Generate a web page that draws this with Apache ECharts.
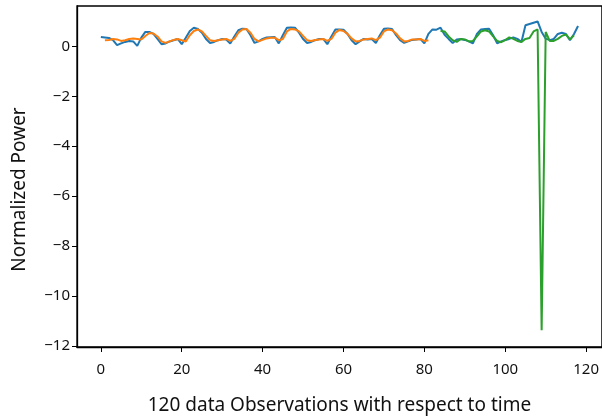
<!DOCTYPE html>
<html>
<head>
<meta charset="utf-8">
<script src="https://cdn.jsdelivr.net/npm/echarts@6/dist/echarts.min.js"></script>
<style>
  html, body { margin: 0; padding: 0; background: #fff; }
  #chart { width: 602px; height: 420px; }
</style>
</head>
<body>
<div id="chart"></div>
<script>
  // 实际功率（蓝）, 从第0个观测开始
  const actualPower = [
    0.38, 0.36, 0.34, 0.25, 0.05, 0.12, 0.18, 0.22, 0.20, 0.02,
    0.35, 0.58, 0.58, 0.50, 0.30, 0.09, 0.12, 0.20, 0.25, 0.30,
    0.09, 0.35, 0.62, 0.75, 0.70, 0.55, 0.30, 0.14, 0.18, 0.25,
    0.30, 0.28, 0.12, 0.40, 0.65, 0.71, 0.70, 0.45, 0.14, 0.20,
    0.30, 0.36, 0.37, 0.38, 0.12, 0.45, 0.75, 0.76, 0.75, 0.55,
    0.30, 0.14, 0.18, 0.25, 0.30, 0.30, 0.09, 0.40, 0.68, 0.68,
    0.67, 0.50, 0.25, 0.09, 0.20, 0.30, 0.28, 0.30, 0.14, 0.45,
    0.71, 0.72, 0.70, 0.45, 0.25, 0.14, 0.20, 0.26, 0.28, 0.30,
    0.12, 0.50, 0.68, 0.67, 0.75, 0.47, 0.30, 0.14, 0.28, 0.30,
    0.26, 0.20, 0.12, 0.50, 0.68, 0.70, 0.71, 0.45, 0.12, 0.20,
    0.26, 0.30, 0.36, 0.30, 0.18, 0.85, 0.90, 0.95, 1.00, 0.58,
    0.31, 0.25, 0.30, 0.50, 0.55, 0.50, 0.25, 0.50, 0.82
  ]
  // 训练集预测（橙）, 从第1个观测开始
  const trainStart = 1
  const trainPred = [
    0.25, 0.26, 0.30, 0.28, 0.22, 0.25, 0.30, 0.32, 0.30, 0.28,
    0.42, 0.54, 0.52, 0.40, 0.20, 0.14, 0.20, 0.26, 0.30, 0.25,
    0.20, 0.45, 0.62, 0.68, 0.60, 0.42, 0.25, 0.22, 0.25, 0.28,
    0.30, 0.22, 0.30, 0.55, 0.68, 0.70, 0.55, 0.30, 0.20, 0.26,
    0.32, 0.35, 0.35, 0.25, 0.30, 0.60, 0.70, 0.68, 0.60, 0.42,
    0.25, 0.22, 0.26, 0.28, 0.30, 0.22, 0.30, 0.55, 0.66, 0.62,
    0.50, 0.32, 0.20, 0.22, 0.28, 0.30, 0.32, 0.25, 0.35, 0.60,
    0.68, 0.65, 0.52, 0.32, 0.20, 0.22, 0.28, 0.28, 0.30, 0.22,
    0.25
  ]
  // 测试集预测（绿）, 从第84个观测开始
  const testStart = 84
  const testPred = [
    0.62, 0.60, 0.40, 0.25, 0.18, 0.30, 0.28, 0.20, 0.22, 0.40,
    0.60, 0.65, 0.60, 0.40, 0.22, 0.17, 0.25, 0.36, 0.30, 0.22,
    0.18, 0.30, 0.34, 0.60, 0.68, -11.38, 0.58, 0.22, 0.22, 0.30,
    0.42, 0.48, 0.28, 0.45
  ]
  const xTicks = [0, 20, 40, 60, 80, 100, 120]
  const yTicks = [-12, -10, -8, -6, -4, -2, 0]

  const toPairs = (arr, start) => arr.map((v, i) => [start + i, v])
  const minus = v => String(v).replace('-', '\u2212')
  const font = 'Noto Sans'

  const chart = echarts.init(document.getElementById('chart'))
  const option = {
    animation: false,
    grid: {
      left: 77, top: 6, width: 532, height: 347,
      show: true, borderColor: '#000', borderWidth: 1.3
    },
    xAxis: {
      type: 'value',
      min: -5.9, max: 123.9,
      name: '120 data Observations with respect to time',
      nameLocation: 'middle',
      nameGap: 49,
      nameTextStyle: { fontFamily: font, fontSize: 19, color: '#111' },
      axisLine: { onZero: false, lineStyle: { color: '#000', width: 1.3 } },
      axisTick: { customValues: xTicks, length: 5, lineStyle: { color: '#000' } },
      axisLabel: { customValues: xTicks, fontFamily: font, fontSize: 15, color: '#111', margin: 15 },
      splitLine: { show: false }
    },
    yAxis: {
      type: 'value',
      min: -12.05, max: 1.62,
      name: 'Normalized Power',
      nameLocation: 'middle',
      nameGap: 48,
      nameTextStyle: { fontFamily: font, fontSize: 19, color: '#111', padding: [0, 26, 0, 0] },
      axisLine: { onZero: false, lineStyle: { color: '#000', width: 1.3 } },
      axisTick: { customValues: yTicks, length: 5, lineStyle: { color: '#000' } },
      axisLabel: { customValues: yTicks, fontFamily: font, fontSize: 15, color: '#111', margin: 7, formatter: minus },
      splitLine: { show: false }
    },
    series: [
      {
        name: 'actual', type: 'line', data: toPairs(actualPower, 0),
        showSymbol: false, lineStyle: { color: '#1f77b4', width: 2 }
      },
      {
        name: 'train', type: 'line', data: toPairs(trainPred, trainStart),
        showSymbol: false, lineStyle: { color: '#ff7f0e', width: 2 }
      },
      {
        name: 'test', type: 'line', data: toPairs(testPred, testStart),
        showSymbol: false, lineStyle: { color: '#2ca02c', width: 2 }
      }
    ]
  }
  chart.setOption(option)
</script>
</body>
</html>
